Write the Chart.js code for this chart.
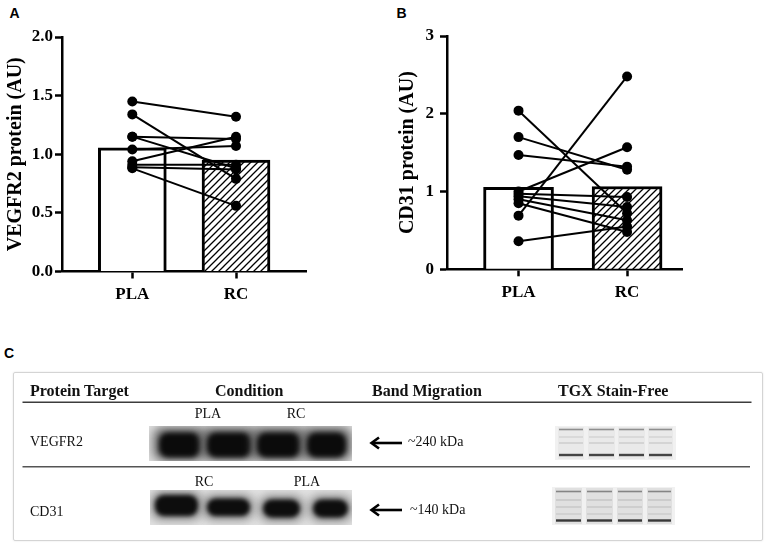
<!DOCTYPE html>
<html>
<head>
<meta charset="utf-8">
<script src="https://cdn.jsdelivr.net/npm/chart.js@4.4.1/dist/chart.umd.min.js"></script>
<style>
  body { margin: 0; width: 765px; height: 544px; background: #fff; position: relative; overflow: hidden; }
  canvas { position: absolute; }
  .lbl { position: absolute; font: bold 14px "Liberation Sans", Arial, sans-serif; line-height: 1; color: #000; }
  .t { position: absolute; font-family: "Liberation Serif", "Times New Roman", serif; font-size: 14px; line-height: 1; white-space: nowrap; color: #111; }
  .h { font-weight: bold; font-size: 16px; }
  .c { transform: translateX(-50%); }
  #box { position: absolute; left: 13px; top: 372px; width: 748px; height: 167px; border: 1px solid #d4d4d4; border-radius: 2px; box-shadow: 0 0 2px rgba(0,0,0,0.12); }
</style>
</head>
<body>
<div class="lbl" style="left:9.5px;top:5.5px">A</div>
<div class="lbl" style="left:396.5px;top:5.5px">B</div>
<div class="lbl" style="left:4px;top:345.5px">C</div>

<canvas id="chartA" width="330" height="310" style="left:0;top:0"></canvas>
<canvas id="chartB" width="330" height="310" style="left:370px;top:0"></canvas>

<div id="box"></div>
<canvas id="blots" width="765" height="214" style="left:0;top:330px"></canvas>

<span class="t h" style="left:30px;top:382.6px">Protein Target</span>
<span class="t h" style="left:215px;top:382.6px">Condition</span>
<span class="t h" style="left:372px;top:382.6px">Band Migration</span>
<span class="t h" style="left:558px;top:382.6px">TGX Stain-Free</span>

<span class="t c" style="left:208px;top:407.3px">PLA</span>
<span class="t c" style="left:296px;top:407.3px">RC</span>
<span class="t" style="left:30px;top:435.3px">VEGFR2</span>
<span class="t" style="left:408px;top:435.3px">~240 kDa</span>

<span class="t c" style="left:204px;top:475px">RC</span>
<span class="t c" style="left:307px;top:475px">PLA</span>
<span class="t" style="left:30px;top:505px">CD31</span>
<span class="t" style="left:410px;top:503.3px">~140 kDa</span>

<script>
const groups = ['PLA', 'RC'];

// VEGFR2, one value per participant
const vegfrPLA = [1.45, 1.34, 1.15, 1.15, 1.04, 0.94, 0.91, 0.89, 0.88];
const vegfrRC  = [1.32, 0.79, 1.13, 0.88, 1.07, 1.15, 0.91, 0.87, 0.56];
const vegfrMean = [1.055, 0.95];

// CD31
const cd31PLA = [2.04, 1.70, 1.47, 1.00, 0.97, 0.94, 0.90, 0.85, 0.69, 0.36];
const cd31RC  = [0.72, 1.28, 1.32, 1.57, 0.93, 0.80, 0.63, 0.48, 2.48, 0.55];
const cd31Mean = [1.055, 1.065];

Chart.defaults.color = '#000';

function makeHatch() {
  const c = document.createElement('canvas');
  c.width = 7; c.height = 7;
  const g = c.getContext('2d');
  g.fillStyle = '#fff';
  g.fillRect(0, 0, 7, 7);
  g.strokeStyle = '#000';
  g.lineWidth = 1.3;
  g.beginPath();
  g.moveTo(-1, 8); g.lineTo(8, -1);
  g.moveTo(-1, 1); g.lineTo(1, -1);
  g.moveTo(6, 8); g.lineTo(8, 6);
  g.stroke();
  return g.createPattern(c, 'repeat');
}
const hatch = makeHatch();

const tickFont = { family: '"Liberation Serif", "Times New Roman", serif', weight: 'bold', size: 17 };
const titleFont = { family: '"Liberation Serif", "Times New Roman", serif', weight: 'bold', size: 20, lineHeight: 1 };

function pairedChart(id, pla, rc, means, cfg) {
  const pairs = pla.map((p, i) => ({
    type: 'line',
    data: [{ x: 0, y: p }, { x: 1, y: rc[i] }],
    borderColor: '#000',
    borderWidth: 2,
    pointRadius: 5,
    pointBackgroundColor: '#000',
    pointBorderWidth: 0,
    order: 0
  }));

  const axisGrid = { offset: false, drawOnChartArea: false, tickLength: 7, tickWidth: 2.5, tickColor: '#000' };
  const axisBorder = { color: '#000', width: 2.5 };

  return new Chart(id, {
    type: 'bar',
    data: {
      datasets: [...pairs, {
        type: 'bar',
        data: means.map((m, i) => ({ x: i, y: m })),
        backgroundColor: ['#fff', hatch],
        borderColor: '#000',
        borderWidth: 3,
        borderSkipped: 'bottom',
        barThickness: cfg.barWidth,
        order: 1
      }]
    },
    options: {
      responsive: false,
      animation: false,
      layout: { padding: { top: cfg.top, right: cfg.right, left: 0, bottom: 0 } },
      plugins: { legend: { display: false }, tooltip: { enabled: false } },
      scales: {
        x: {
          type: 'linear',
          min: cfg.xMin,
          max: cfg.xMax,
          offset: false,
          afterBuildTicks: s => { s.ticks = groups.map((g, i) => ({ value: i })); },
          afterFit: s => { s.height = cfg.xHeight; },
          grid: axisGrid,
          border: axisBorder,
          ticks: { padding: 6, font: tickFont, callback: v => groups[v] }
        },
        y: {
          min: 0,
          max: cfg.yMax,
          afterFit: s => { s.width = cfg.yWidth; },
          grid: axisGrid,
          border: axisBorder,
          ticks: { stepSize: cfg.step, padding: cfg.tickPad, font: tickFont, callback: v => v.toFixed(cfg.dec) },
          title: { display: true, text: cfg.title, font: titleFont, padding: { top: cfg.titlePad, bottom: 0 } }
        }
      }
    }
  });
}

pairedChart('chartA', vegfrPLA, vegfrRC, vegfrMean, {
  title: 'VEGFR2 protein (AU)', yMax: 2, step: 0.5, dec: 1,
  top: 37, right: 24, xHeight: 38.5, yWidth: 62, tickPad: 2, titlePad: 6,
  xMin: -0.678, xMax: 1.675, barWidth: 68
});

pairedChart('chartB', cd31PLA, cd31RC, cd31Mean, {
  title: 'CD31 protein (AU)', yMax: 3, step: 1, dec: 0,
  top: 36, right: 18, xHeight: 40.7, yWidth: 77, tickPad: 6, titlePad: 28,
  xMin: -0.659, xMax: 1.506, barWidth: 70
});

// panel C: blot images, rules and arrows
(function drawBlots() {
  const g = document.getElementById('blots').getContext('2d');
  g.translate(0, -330);

  // table rules
  g.fillStyle = '#3c3c3c';
  g.fillRect(22.5, 401.5, 729, 1.5);
  g.fillStyle = '#555';
  g.fillRect(22.5, 466, 727.5, 1.5);

  function band(x, y, w, h, r, blur, color) {
    g.save();
    g.filter = 'blur(' + blur + 'px)';
    g.fillStyle = color;
    g.beginPath();
    g.roundRect(x, y, w, h, r);
    g.fill();
    g.restore();
  }

  // VEGFR2 blot
  g.save();
  g.beginPath(); g.rect(149, 426, 203, 35); g.clip();
  g.fillStyle = '#dedede';
  g.fillRect(149, 426, 203, 35);
  [[157, 202], [205, 253], [255, 302], [305, 348]].forEach(([a, b]) => {
    band(a - 4, 427, b - a + 8, 34, 10, 5, 'rgba(70,70,70,0.75)');
    band(a + 2, 432.5, b - a - 4, 25, 9, 2.5, '#0b0b0b');
  });
  g.restore();

  // CD31 blot
  g.save();
  g.beginPath(); g.rect(150, 490, 202, 35); g.clip();
  g.fillStyle = '#e2e2e2';
  g.fillRect(150, 490, 202, 35);
  [[155, 198, 495, 516], [207, 250, 498.5, 516], [263, 300, 499.5, 517.5], [313, 348, 499.5, 517.5]].forEach(([a, b, t, u]) => {
    band(a - 4, t - 4, b - a + 8, u - t + 8, 10, 5, 'rgba(90,90,90,0.65)');
    band(a, t, b - a, u - t, 9, 2.2, '#0d0d0d');
  });
  g.restore();

  // stain-free lanes
  function stainFree(x, y, w, h, bg, lanes, lines) {
    g.fillStyle = '#f1f1f1';
    g.fillRect(x, y, w, h);
    lanes.forEach(([a, b]) => {
      g.fillStyle = bg;
      g.fillRect(a, y + 1, b - a, h - 2);
      lines.forEach(([ly, lw, col]) => {
        g.save();
        g.filter = 'blur(0.7px)';
        g.fillStyle = col;
        g.fillRect(a + 1, ly - lw / 2, b - a - 2, lw);
        g.restore();
      });
    });
  }
  stainFree(555, 426, 121, 34, '#e9e9e9',
    [[558, 584], [588, 615], [618, 645], [648, 673]],
    [[429.5, 1.6, '#8e8e8e'], [437, 1.4, '#d2d2d2'], [443, 1.4, '#cbcbcb'], [455, 2.4, '#444']]);
  stainFree(552, 487, 123, 38, '#e0e0e0',
    [[555, 582], [586, 613], [617, 643], [647, 672]],
    [[491.5, 1.6, '#858585'], [500, 1.4, '#c4c4c4'], [507, 1.4, '#c6c6c6'], [514, 1.4, '#cacaca'], [520.5, 2.4, '#383838']]);

  // arrows
  function arrow(y) {
    g.strokeStyle = '#000';
    g.lineWidth = 2.6;
    g.lineCap = 'butt';
    g.beginPath();
    g.moveTo(372, y); g.lineTo(402, y);
    g.stroke();
    g.beginPath();
    g.moveTo(379, y - 5.5); g.lineTo(371.5, y); g.lineTo(379, y + 5.5);
    g.stroke();
  }
  arrow(443);
  arrow(510);
})();
</script>
</body>
</html>
